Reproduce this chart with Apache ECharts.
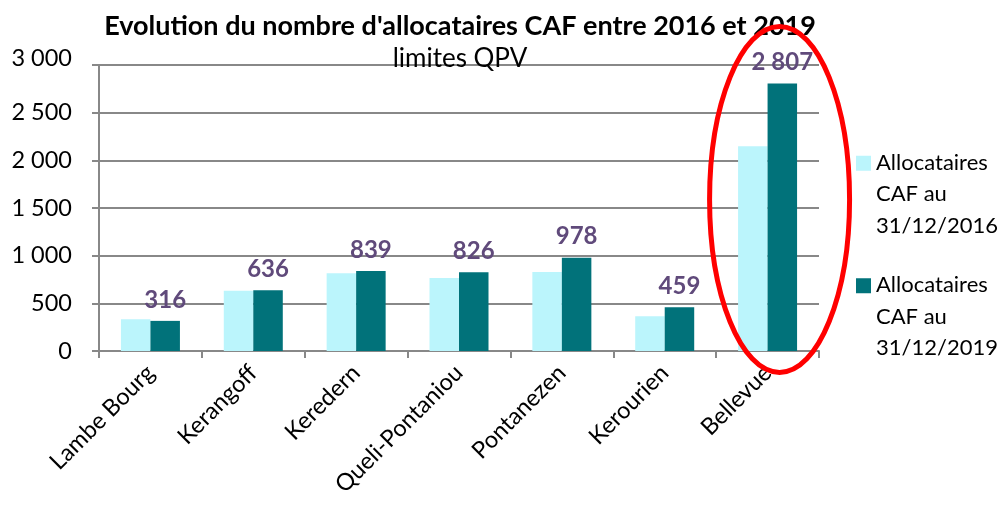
<!DOCTYPE html>
<html><head><meta charset="utf-8">
<script src="https://cdn.jsdelivr.net/npm/echarts@6/dist/echarts.min.js"></script>
<style>html,body{margin:0;padding:0;background:#fff}#c{width:1003px;height:508px}</style>
</head><body><div id="c"></div>
<script>
const categories = ['Lambe Bourg','Kerangoff','Keredern','Queli-Pontaniou','Pontanezen','Kerourien','Bellevue'];
const values2016 = [333, 632, 815, 765, 828, 365, 2147];
const values2019 = [316, 636, 839, 826, 978, 459, 2807];
const seriesNames = ['Allocataires\nCAF au\n31/12/2016', 'Allocataires\nCAF au\n31/12/2019'];
const yTicks = [0, 500, 1000, 1500, 2000, 2500, 3000];
const titleText = "Evolution du nombre d'allocataires CAF entre 2016 et 2019";
const subtitleText = 'limites QPV';

const FONT = 'Lato';
const fmt = v => String(v).replace(/\B(?=(\d{3})+(?!\d))/g, ' ');
const iconPath = 'path://M0,0L0,0M0,94L0,94M0,8.5L15,8.5L15,23.5L0,23.5Z';
const yMax = yTicks[yTicks.length - 1];

const chart = echarts.init(document.getElementById('c'), null, {renderer: 'canvas'});
chart.setOption({
  animation: false,
  textStyle: {fontFamily: FONT},
  title: [
    {text: titleText, left: 455, top: 8, textAlign: 'center',
     textStyle: {fontFamily: FONT, fontWeight: 'bold', fontSize: 27, color: '#000'}},
    {text: subtitleText, left: 455, top: 41, textAlign: 'center',
     textStyle: {fontFamily: FONT, fontWeight: 'normal', fontSize: 26, color: '#000'}}
  ],
  grid: {left: 99, right: 184, top: 65, bottom: 157},
  legend: {
    orient: 'vertical', left: 851, top: 142, itemGap: 28,
    itemWidth: 15, itemHeight: 94, icon: iconPath,
    textStyle: {fontFamily: FONT, fontSize: 22, color: '#000', lineHeight: 31.5},
    data: seriesNames
  },
  xAxis: {
    type: 'category', data: categories,
    axisLine: {lineStyle: {color: '#888', width: 2}},
    axisTick: {show: true, length: 7, lineStyle: {color: '#888', width: 2}},
    axisLabel: {rotate: 45, fontFamily: FONT, fontSize: 23.5, color: '#000', margin: 18, interval: 0}
  },
  yAxis: {
    type: 'value', min: yTicks[0], max: yMax, interval: yTicks[1] - yTicks[0],
    axisLine: {show: true, lineStyle: {color: '#888', width: 2}},
    axisTick: {show: true, length: 7, lineStyle: {color: '#888', width: 2}},
    splitLine: {lineStyle: {color: '#888', width: 2}},
    axisLabel: {fontFamily: FONT, fontSize: 23.5, color: '#000', margin: 27,
      formatter: v => v === yMax ? '{t|' + fmt(v) + '}' : fmt(v),
      rich: {t: {fontFamily: FONT, fontSize: 23.5, color: '#000', padding: [0, 0, 14, 0]}}}
  },
  series: [
    {name: seriesNames[0], type: 'bar', data: values2016, barWidth: 29.5, barGap: '0%',
     itemStyle: {color: '#BBF5FC'}},
    {name: seriesNames[1], type: 'bar', data: values2019, barWidth: 29.5,
     itemStyle: {color: '#01727A'},
     label: {show: true, position: 'top', distance: 9, formatter: p => fmt(p.value),
       fontFamily: FONT, fontWeight: 'bold', fontSize: 24, color: '#604A7B'}}
  ]
});

// red annotation ellipse around the last category
const last = categories.length - 1;
const c = chart.convertToPixel({xAxisIndex: 0, yAxisIndex: 0}, [last, 1590]);
chart.setOption({
  graphic: [{type: 'ellipse', shape: {cx: c[0] + 12, cy: c[1], rx: 70, ry: 173},
    style: {fill: 'none', stroke: '#FF0000', lineWidth: 5}, z: 100}]
});
</script></body></html>
